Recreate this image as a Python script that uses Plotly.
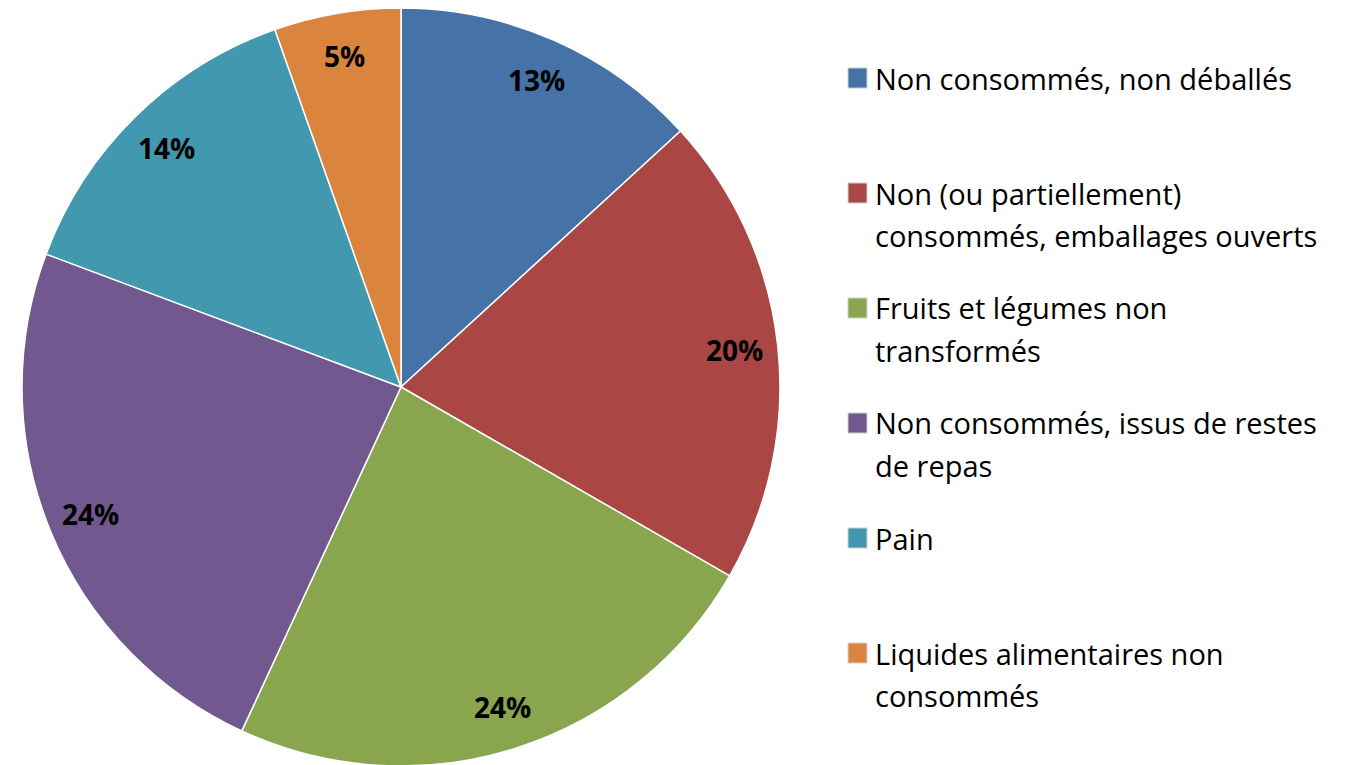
import math
import plotly.graph_objects as go

categories = [
    "Non consommés, non déballés",
    "Non (ou partiellement)<br>consommés, emballages ouverts",
    "Fruits et légumes non<br>transformés",
    "Non consommés, issus de restes<br>de repas",
    "Pain",
    "Liquides alimentaires non<br>consommés",
]
values = [13.2, 20.1, 23.6, 23.8, 13.9, 5.4]
pct_labels = ["13%", "20%", "24%", "24%", "14%", "5%"]
colors = ["#4572A7", "#AA4643", "#89A54E", "#71588F", "#4198AF", "#DB843D"]

W, H = 1345, 765
OFF = 8  # page body margin
cx, cy, R = 401.0 - OFF, 387.0 - OFF, 379.0  # pixel geometry of the pie (figure coords)

fig = go.Figure(go.Pie(
    labels=categories,
    values=values,
    sort=False,
    direction="clockwise",
    rotation=0,
    marker=dict(colors=colors, line=dict(color="white", width=1.5)),
    textinfo="none",
    hoverinfo="label+percent",
    showlegend=False,
    domain=dict(x=[(cx - R) / W, (cx + R) / W], y=[(H - (cy + R)) / H, (H - (cy - R)) / H]),
))

annotations = []
shapes = []
total = sum(values)
cum = 0.0
for v, t in zip(values, pct_labels):
    mid = (cum + v / 2) / total * 2 * math.pi
    cum += v
    px = cx + 0.885 * R * math.sin(mid)
    py = cy - 0.885 * R * math.cos(mid)
    annotations.append(dict(
        x=px / W, y=1 - py / H, xref="paper", yref="paper", text=t,
        showarrow=False, font=dict(family="Open Sans", size=28, color="black", weight="bold"),
        xanchor="center", yanchor="middle",
    ))

# Custom legend
legend_top = 78 - OFF
legend_step = 115
line_h = 42
for i, (lab, col) in enumerate(zip(categories, colors)):
    y0 = legend_top + i * legend_step
    shapes.append(dict(type="rect", xref="paper", yref="paper",
                       x0=(848 - OFF) / W, x1=(867 - OFF) / W,
                       y0=1 - (y0 - 10) / H, y1=1 - (y0 + 10) / H,
                       fillcolor=col, line=dict(color="#d0d0d0", width=1)))
    for j, part in enumerate(lab.split("<br>")):
        annotations.append(dict(
            x=(873 - OFF) / W, y=1 - (y0 + j * line_h) / H, xref="paper", yref="paper",
            text=part, showarrow=False, xanchor="left", yanchor="middle",
            font=dict(family="Open Sans", size=29, color="black"),
        ))

fig.update_layout(
    width=W, height=H,
    margin=dict(l=0, r=0, t=0, b=0),
    paper_bgcolor="white", plot_bgcolor="white",
    annotations=annotations, shapes=shapes,
)

fig.write_html("out.html")
